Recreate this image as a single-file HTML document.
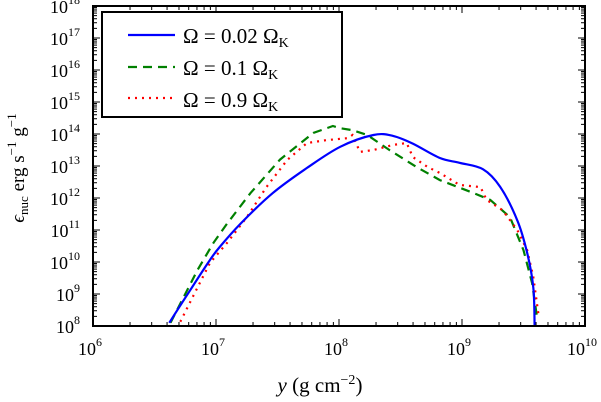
<!DOCTYPE html>
<html><head><meta charset="utf-8"><style>
body{margin:0;background:#fff}
svg{display:block}
text{font-family:"Liberation Serif","DejaVu Serif",serif}
</style></head><body>
<svg id="c" width="601" height="402" font-family="Liberation Serif, serif">
<g id="marks"></g>
<g id="axes"></g>
<g>
<rect x="102" y="12" width="240" height="105" fill="#fff" stroke="#000" stroke-width="2"/>
<line x1="128" y1="35" x2="175" y2="35" stroke="#0000ff" stroke-width="2.2"/>
<line x1="128" y1="67" x2="175" y2="67" stroke="#008000" stroke-width="2.2" stroke-dasharray="9,6"/>
<line x1="128" y1="98" x2="175" y2="98" stroke="#ff0000" stroke-width="2.2" stroke-dasharray="2,5"/>
<text x="183" y="43" font-size="21">Ω = 0.02 Ω<tspan font-size="14" dy="4">K</tspan></text>
<text x="183" y="75" font-size="21">Ω = 0.1 Ω<tspan font-size="14" dy="4">K</tspan></text>
<text x="183" y="107" font-size="21">Ω = 0.9 Ω<tspan font-size="14" dy="4">K</tspan></text>
</g>
<text x="320" y="392" font-size="21" text-anchor="middle"><tspan font-style="italic">y</tspan> (g cm<tspan font-size="14" dy="-8">−2</tspan><tspan dy="8">)</tspan></text>
<text transform="translate(24,168) rotate(-90)" font-size="19" text-anchor="middle"><tspan font-style="italic">ϵ</tspan><tspan font-size="13" dy="4">nuc</tspan><tspan dy="-4">  erg s</tspan><tspan font-size="13" dy="-8">−1</tspan><tspan dy="8"> g</tspan><tspan font-size="13" dy="-8">−1</tspan></text>
</svg>
<script>
const xTicks=[6,7,8,9,10];
const yTicks=[8,9,10,11,12,13,14,15,16,17,18];
const blueX=[6.62,6.79,6.95,7.03,7.20,7.46,7.74,8.01,8.28,8.44,8.60,8.82,8.98,9.17,9.31,9.45,9.53,9.58,9.59];
const blueY=[8.1,9.12,10.06,10.47,11.2,12.15,12.94,13.6,13.97,13.94,13.7,13.25,13.1,12.9,12.35,11.3,10.28,9.2,8.0];
const greenX=[6.63,6.85,6.98,7.09,7.28,7.52,7.79,7.95,8.01,8.11,8.23,8.41,8.63,8.82,9.07,9.23,9.39,9.50,9.57,9.61];
const greenY=[8.1,9.75,10.6,11.2,12.15,13.2,14.03,14.25,14.18,14.12,13.97,13.5,12.97,12.56,12.19,11.94,11.4,10.37,9.34,8.28];
const redX=[6.71,6.81,6.95,7.09,7.25,7.41,7.58,7.74,7.90,8.07,8.11,8.17,8.28,8.44,8.55,8.60,8.72,8.82,8.98,9.15,9.20,9.33,9.45,9.53,9.58,9.62];
const redY=[8.13,8.9,9.97,10.6,11.4,12.34,13.19,13.72,13.81,13.87,13.97,13.44,13.5,13.66,13.72,13.28,12.97,12.78,12.41,12.34,11.94,11.62,11.0,10.37,9.53,8.4];
const L=93,R=585,T=6,B=326;
const sx=v=>L+(v-6)/4*(R-L);
const sy=v=>B-(v-8)/10*(B-T);
const NS="http://www.w3.org/2000/svg";
const marks=document.getElementById('marks'),axes=document.getElementById('axes');
function mk(p,tag,a){const e=document.createElementNS(NS,tag);for(const k in a)e.setAttribute(k,a[k]);p.appendChild(e);return e;}
function smooth(P){
  let d='M'+P[0][0].toFixed(1)+','+P[0][1].toFixed(1);
  for(let i=0;i<P.length-1;i++){
    const p0=P[Math.max(0,i-1)],p1=P[i],p2=P[i+1],p3=P[Math.min(P.length-1,i+2)];
    const c1=[p1[0]+(p2[0]-p0[0])/6,p1[1]+(p2[1]-p0[1])/6];
    const c2=[p2[0]-(p3[0]-p1[0])/6,p2[1]-(p3[1]-p1[1])/6];
    d+='C'+c1.map(v=>v.toFixed(1)).join(',')+' '+c2.map(v=>v.toFixed(1)).join(',')+' '+p2.map(v=>v.toFixed(1)).join(',');
  }
  return d;
}
function series(xs,ys,col,dash,name,sm){
  const P=xs.map((x,i)=>[sx(x),sy(ys[i])]);
  const d=sm?smooth(P):P.map((p,i)=>(i?'L':'M')+p[0].toFixed(1)+','+p[1].toFixed(1)).join('');
  const p=mk(marks,'path',{d:d,fill:'none',stroke:col,'stroke-width':2.2,'stroke-dasharray':dash});
  
  
}
const cp=mk(marks,'clipPath',{id:'cl'});mk(cp,'rect',{x:L,y:T,width:R-L,height:B-T});
marks.setAttribute('clip-path','url(#cl)');
series(greenX,greenY,'#008000','9,6','series-0.1',false);
series(redX,redY,'#ff0000','2,5','series-0.9',false);
series(blueX,blueY,'#0000ff','none','series-0.02',true);
mk(axes,'rect',{x:L,y:T,width:R-L,height:B-T,fill:'none',stroke:'#000','stroke-width':2});
xTicks.forEach((t,i)=>{
  const x=sx(t);
  mk(axes,'line',{x1:x,y1:B,x2:x,y2:B-7,stroke:'#000'});
  mk(axes,'line',{x1:x,y1:T,x2:x,y2:T+7,stroke:'#000'});
  const tx=mk(axes,'text',{x:x-3,y:B+29,'font-size':18,'text-anchor':'middle'});
  
  
  tx.innerHTML='10<tspan font-size="12" dy="-9">'+t+'</tspan>';
  if(i<xTicks.length-1)for(let m=2;m<10;m++){const xm=sx(t+Math.log10(m));
    mk(axes,'line',{x1:xm,y1:B,x2:xm,y2:B-4,stroke:'#000'});
    mk(axes,'line',{x1:xm,y1:T,x2:xm,y2:T+4,stroke:'#000'});}
});
yTicks.forEach((t,i)=>{
  const y=sy(t);
  mk(axes,'line',{x1:L,y1:y,x2:L+7,y2:y,stroke:'#000'});
  mk(axes,'line',{x1:R,y1:y,x2:R-7,y2:y,stroke:'#000'});
  const tx=mk(axes,'text',{x:L-13,y:y+7,'font-size':18,'text-anchor':'end'});
  
  
  tx.innerHTML='10<tspan font-size="12" dy="-9">'+t+'</tspan>';
  if(i<yTicks.length-1)for(let m=2;m<10;m++){const ym=sy(t+Math.log10(m));
    mk(axes,'line',{x1:L,y1:ym,x2:L+4,y2:ym,stroke:'#000'});
    mk(axes,'line',{x1:R,y1:ym,x2:R-4,y2:ym,stroke:'#000'});}
});
</script>
</body></html>
